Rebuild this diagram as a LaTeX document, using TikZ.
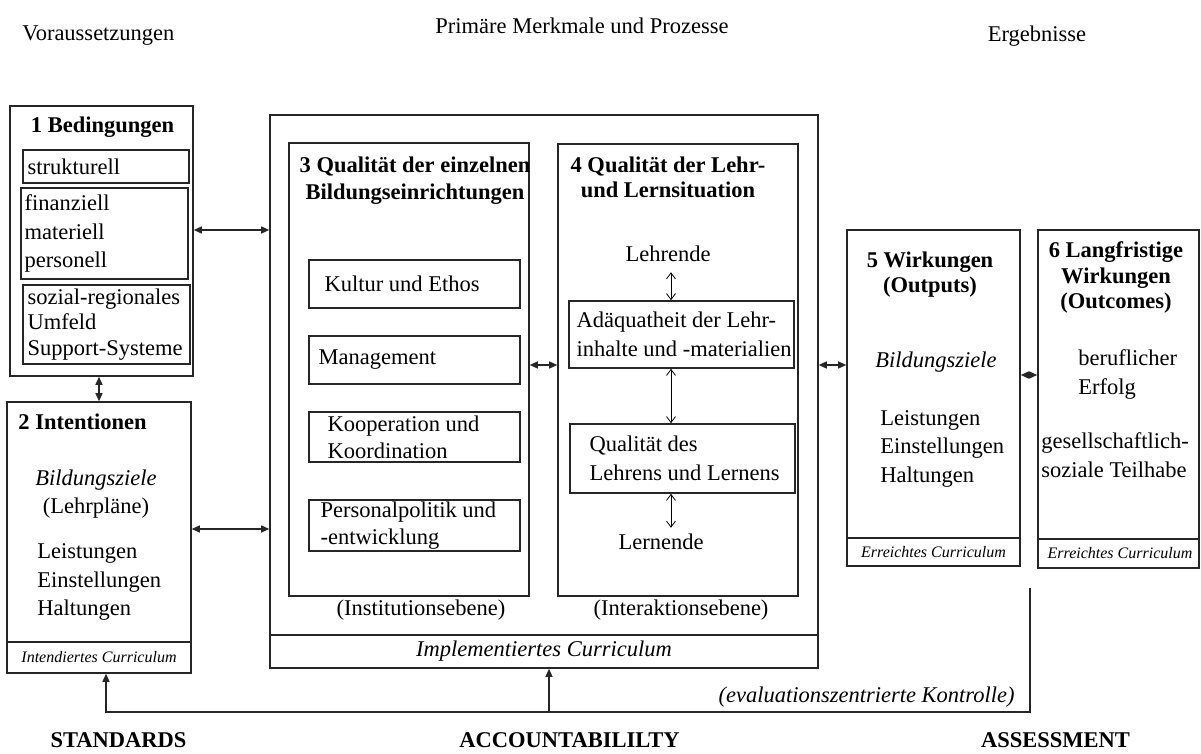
\documentclass[tikz,border=0pt]{standalone}
\usepackage{fontspec}
\setmainfont{Liberation Serif}
\usetikzlibrary{arrows.meta,positioning}
\newcommand\dfont{\fontsize{11.25}{14.25}\selectfont}
\newcommand\tfont{\fontsize{11.25}{12.75}\selectfont\bfseries}
\newcommand\cfont{\fontsize{8}{9}\selectfont\itshape}

\begin{document}
\begin{tikzpicture}[x=0.5pt,y=-0.5pt,
    >={Triangle[length=4pt,width=3.5pt]},
    frame/.style={draw=black!85,line width=0.8pt,inner sep=0pt},
    rule/.style={draw=black!85,line width=0.8pt},
    txt/.style={inner sep=0pt,font=\dfont},
    head/.style={inner sep=0pt,font=\tfont,align=center},
    curr/.style={inner sep=0pt,font=\cfont},
    link/.style={<->,line width=0.7pt,draw=black!85},
    flow/.style={line width=0.7pt,draw=black!85},
    thinlink/.style={{Straight Barb[length=3pt,width=4.5pt]}-{Straight Barb[length=3pt,width=4.5pt]},line width=0.4pt},
  ]
  \useasboundingbox (0,0) rectangle (1201,754);

  % column headings
  \node[txt,anchor=west] (pre) at (22,36) {Voraussetzungen};
  \node[txt] (proc) at (582,26) {Primäre Merkmale und Prozesse};
  \node[txt] (res) at (1037,36) {Ergebnisse};

  % 1 Bedingungen
  \node[frame,minimum width=91.5pt,minimum height=135pt] (b1) at (101.5,241) {};
  \node[head] (t1) at (102.5,127) {1 Bedingungen};
  \node[frame,minimum width=83pt,minimum height=16.5pt] (strukt) at (106,166.5) {};
  \node[txt,right=2.5pt of strukt.west] (struktt) {strukturell};
  \node[frame,minimum width=83.5pt,minimum height=45.5pt] (fin) at (104.5,233.5) {};
  \node[txt,align=left,right=2pt of fin.west] (fint) {finanziell\\materiell\\personell};
  \node[frame,minimum width=83.5pt,minimum height=39.5pt] (soz) at (106.5,324.5) {};
  \node[txt,align=left,font={\fontsize{11.25}{12.75}\selectfont},right=2.5pt of soz.west] (sozt) {sozial-regionales\\Umfeld\\Support-Systeme};

  % 2 Intentionen
  \node[frame,minimum width=92pt,minimum height=135.5pt] (b2) at (99,537.5) {};
  \node[head,anchor=west] (t2) at (18,422) {2 Intentionen};
  \node[txt,align=center] (g2) at (96,494) {\textit{Bildungsziele}\\(Lehrpläne)};
  \node[txt,align=left,anchor=west] (l2) at (37,582) {Leistungen\\Einstellungen\\Haltungen};
  \draw[rule] (b2.west |- 0,642) -- (b2.east |- 0,642);
  \node[curr] (c2) at (99,657.5) {Intendiertes Curriculum};

  % implementiertes Curriculum
  \node[frame,minimum width=274pt,minimum height=276.5pt] (impl) at (544,391.5) {};
  \draw[rule] (impl.west |- 0,635) -- (impl.east |- 0,635);
  \node[txt,font=\dfont\itshape] (ci) at (544,651) {Implementiertes Curriculum};

  % 3 Qualitaet der Bildungseinrichtungen
  \node[frame,minimum width=120pt,minimum height=226.5pt] (b3) at (409,369.5) {};
  \node[head,font={\fontsize{11.25}{13.5}\selectfont\bfseries}] (t3) at (415,180.5) {3 Qualität der einzelnen\\Bildungseinrichtungen};
  \node[frame,minimum width=105.5pt,minimum height=24pt] (kult) at (414.5,284) {};
  \node[txt,right=8pt of kult.west] (kultt) {Kultur und Ethos};
  \node[frame,minimum width=105.5pt,minimum height=24pt] (mgmt) at (414.5,360) {};
  \node[txt,right=5pt of mgmt.west] (mgmtt) {Management};
  \node[frame,minimum width=105.5pt,minimum height=25pt] (koop) at (414.5,437) {};
  \node[txt,align=left,font={\fontsize{11.25}{13.5}\selectfont},right=9.5pt of koop.west] (koopt) {Kooperation und\\Koordination};
  \node[frame,minimum width=105.5pt,minimum height=25.5pt] (pers) at (414.5,525.5) {};
  \node[txt,align=left,font={\fontsize{11.25}{13.5}\selectfont},right=6pt of pers.west] (perst) {Personalpolitik und\\-entwicklung};
  \node[txt] (inst) at (421,610) {(Institutionsebene)};

  % 4 Qualitaet der Lehr- und Lernsituation
  \node[frame,minimum width=120pt,minimum height=226pt] (b4) at (678,370) {};
  \node[head] (t4) at (668,177.5) {4 Qualität der Lehr-\\und Lernsituation};
  \node[txt] (lehr) at (668,254) {Lehrende};
  \node[frame,minimum width=112.5pt,minimum height=33.5pt] (adaq) at (681.5,334.5) {};
  \node[txt,align=left,right=4pt of adaq.west] (adaqt) {Adäquatheit der Lehr-\\inhalte und -materialien};
  \node[frame,minimum width=112.5pt,minimum height=34.5pt] (qual) at (682.5,458.5) {};
  \node[txt,align=left,right=10pt of qual.west] (qualt) {Qualität des\\Lehrens und Lernens};
  \node[txt] (lern) at (661,542) {Lernende};
  \node[txt] (inter) at (681,610) {(Interaktionsebene)};
  \coordinate (xv) at (671,0);
  \draw[thinlink] ([yshift=-5pt]lehr.south -| xv) -- (adaq.north -| xv);
  \draw[thinlink] (adaq.south -| xv) -- (qual.north -| xv);
  \draw[thinlink] (qual.south -| xv) -- ([yshift=3pt]lern.north -| xv);

  % 5 Wirkungen
  \node[frame,minimum width=86.5pt,minimum height=168pt] (b5) at (933.5,398) {};
  \node[head] (t5) at (930,274.5) {5 Wirkungen\\(Outputs)};
  \node[txt,font=\dfont\itshape] (g5) at (936,362) {Bildungsziele};
  \node[txt,align=left,anchor=west] (l5) at (880,448.5) {Leistungen\\Einstellungen\\Haltungen};
  \draw[rule] (b5.west |- 0,538) -- (b5.east |- 0,538);
  \node[curr] (c5) at (933.5,552) {Erreichtes Curriculum};

  % 6 Langfristige Wirkungen
  \node[frame,minimum width=80.5pt,minimum height=169pt] (b6) at (1118.5,399) {};
  \node[head] (t6) at (1116,277.5) {6 Langfristige\\Wirkungen\\(Outcomes)};
  \node[txt,align=left,anchor=west] (e6) at (1078,374.5) {beruflicher\\Erfolg};
  \node[txt,align=left,anchor=west] (s6) at (1041,455) {gesellschaftlich-\\soziale Teilhabe};
  \draw[rule] (b6.west |- 0,539) -- (b6.east |- 0,539);
  \node[curr] (c6) at (1120,553) {Erreichtes Curriculum};

  % connectors
  \coordinate (y1) at (0,230);
  \coordinate (y2) at (0,529);
  \coordinate (y3) at (0,365);
  \coordinate (y4) at (0,375);
  \draw[link] (b1.east |- y1) -- (impl.west |- y1);
  \draw[link] (b2.east |- y2) -- (impl.west |- y2);
  \draw[link] (b2.north |- b1.south) -- (b2.north);
  \draw[link] (b3.east |- y3) -- (b4.west |- y3);
  \draw[link] (impl.east |- y3) -- (b5.west |- y3);
  \draw[link] (b5.east |- y4) -- (b6.west |- y4);

  % feedback loop
  \coordinate (k1) at (1030,588);
  \coordinate (k2) at (1030,712);
  \draw[flow,->] (k1) -- (k2) -| ([xshift=3.5pt]b2.south);
  \draw[flow,->] ([xshift=2.5pt]impl.south |- k2) -- ([xshift=2.5pt]impl.south);
  \node[txt,font=\dfont\itshape,anchor=east] (ctl) at (1015,697) {(evaluationszentrierte Kontrolle)};

  % bottom labels
  \node[txt,font=\dfont\bfseries] (std) at (118.5,740) {STANDARDS};
  \node[txt,font=\dfont\bfseries] (acc) at (569.5,740) {ACCOUNTABILILTY};
  \node[txt,font=\dfont\bfseries] (ass) at (1055.5,740) {ASSESSMENT};
\end{tikzpicture}
\end{document}
